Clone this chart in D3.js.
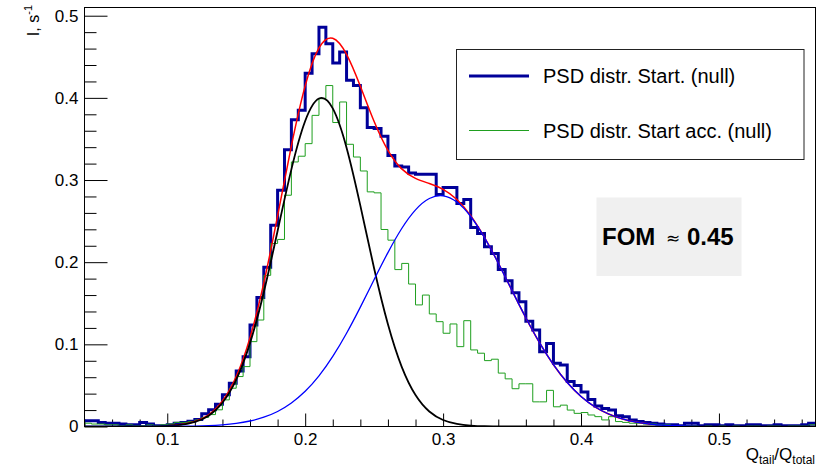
<!DOCTYPE html>
<html>
<head>
<meta charset="utf-8">
<script src="https://cdn.jsdelivr.net/npm/d3@7"></script>
<style>
  body { margin: 0; background: #fff; }
  svg { display: block; font-family: "Liberation Sans", Arial, sans-serif; }
</style>
</head>
<body>
<svg id="chart"></svg>
<script>
// Histogram bins: width 0.005, from 0.04 to 0.57
const binStart = 0.04, binWidth = 0.005, binCount = 106;

// PSD distr. Start. (thick dark blue histogram)
const startHist = [
  0.007, 0.007, 0.005, 0.004, 0.004, 0.003, 0.002, 0.002, 0.005, 0.003,
  0.001, 0.001, 0.002, 0.004, 0.005, 0.0065, 0.0085, 0.0154, 0.0203, 0.0272,
  0.0385, 0.0527, 0.0677, 0.085, 0.1236, 0.157, 0.1937, 0.245, 0.2876, 0.337,
  0.3735, 0.385, 0.430, 0.4537, 0.486, 0.466, 0.4423, 0.4557, 0.4213, 0.415,
  0.388, 0.3638, 0.3626, 0.3532, 0.330, 0.317, 0.316, 0.3086, 0.307, 0.307,
  0.307, 0.2824, 0.2909, 0.2909, 0.2714, 0.2763, 0.2423, 0.235, 0.2187, 0.2107,
  0.191, 0.1774, 0.1628, 0.1519, 0.128, 0.1175, 0.0911, 0.1009, 0.077, 0.075,
  0.0547, 0.050, 0.042, 0.033, 0.025, 0.022, 0.020, 0.013, 0.012, 0.008,
  0.006, 0.005, 0.004, 0.003, 0.002, 0.002, 0.001, 0.004, 0.004, 0.001,
  0.002, 0.002, 0.001, 0.002, 0.001, 0.001, 0.002, 0.002, 0.001, 0.001,
  0.002, 0.001, 0.001, 0.001, 0.002, 0.004
];

// PSD distr. Start acc. (thin green histogram)
const startAccHist = [
  0.004, 0.003, 0.003, 0.002, 0.002, 0.001, 0.002, 0.001, 0.001, 0.002,
  0.001, 0.002, 0.003, 0.005, 0.005, 0.006, 0.008, 0.011, 0.0145, 0.0203,
  0.0324, 0.0466, 0.0608, 0.0729, 0.1033, 0.1296, 0.184, 0.2228, 0.2277, 0.2815,
  0.322, 0.329, 0.3443, 0.3787, 0.399, 0.415, 0.37, 0.395, 0.3435, 0.328,
  0.311, 0.2856, 0.2844, 0.2398, 0.2268, 0.191, 0.1985, 0.1734, 0.148, 0.16,
  0.137, 0.1276, 0.1135, 0.1248, 0.0972, 0.1288, 0.0932, 0.0892, 0.0802, 0.0819,
  0.065, 0.058, 0.046, 0.052, 0.052, 0.03, 0.03, 0.044, 0.024, 0.026,
  0.02, 0.016, 0.017, 0.014, 0.012, 0.008, 0.012, 0.006, 0.005, 0.004,
  0.004, 0.003, 0.003, 0.002, 0.002, 0.001, 0.001, 0.001, 0.001, 0.000,
  0.001, 0.000, 0.001, 0.000, 0.001, 0.000, 0.001, 0.001, 0.000, 0.001,
  0.001, 0.000, 0.001, 0.001, 0.001, 0.002
];

// Fit curves, sampled every 0.01 from 0.04 to 0.57
const curveStep = 0.01;
const gaus1Curve = [
  0, 0, 0, 0.00001, 0.00006, 0.0002, 0.0007, 0.002, 0.0055, 0.0132,
  0.0289, 0.057, 0.1015, 0.1635, 0.238, 0.313, 0.3718, 0.3992, 0.3872, 0.3394,
  0.2688, 0.1923, 0.1244, 0.0726, 0.0383, 0.0183, 0.0079, 0.0031, 0.0011, 0.0003,
  0.0001, 0, 0, 0, 0, 0, 0, 0, 0, 0,
  0, 0, 0, 0, 0, 0, 0, 0, 0, 0,
  0, 0, 0, 0
];
const gaus2Curve = [
  0, 0, 0, 0.00001, 0.00003, 0.00006, 0.00013, 0.00027, 0.00056, 0.0011,
  0.0021, 0.0038, 0.0067, 0.0113, 0.0183, 0.0286, 0.0428, 0.0616, 0.0853, 0.1135,
  0.1453, 0.1789, 0.2117, 0.241, 0.2637, 0.2775, 0.2808, 0.2732, 0.2556, 0.2299,
  0.1989, 0.1654, 0.1323, 0.1017, 0.0752, 0.0535, 0.0365, 0.024, 0.0152, 0.0092,
  0.0054, 0.003, 0.0016, 0.0009, 0.0004, 0.0002, 0.0001, 0, 0, 0,
  0, 0, 0, 0
];
// total fit, drawn over the fit range 0.10 .. 0.45
const totalStart = 0.10;
const totalCurve = [
  0.0008, 0.0023, 0.0061, 0.0143, 0.031, 0.0608, 0.1082, 0.1748, 0.2563, 0.3416,
  0.4146, 0.4608, 0.4725, 0.4529, 0.4141, 0.3712, 0.3361, 0.3136, 0.302, 0.2958,
  0.2887, 0.2763, 0.2567, 0.2302, 0.199, 0.1654, 0.1323, 0.1017, 0.0752, 0.0535,
  0.0365, 0.024, 0.0152, 0.0092, 0.0054, 0.003
];

const xTicks = [0.1, 0.2, 0.3, 0.4, 0.5];
const xTickLabels = ["0.1", "0.2", "0.3", "0.4", "0.5"];
const yTicks = [0, 0.1, 0.2, 0.3, 0.4, 0.5];
const yTickLabels = ["0", "0.1", "0.2", "0.3", "0.4", "0.5"];
const legendLabels = ["PSD distr. Start. (null)", "PSD distr. Start acc. (null)"];
const fomText = ["FOM", "\u2248", "0.45"];

// Dimensions
const width = 831, height = 470;
const frame = {left: 84.5, right: 815.5, top: 7.5, bottom: 426.5};
const font = "'Liberation Sans', Arial, sans-serif";

const svg = d3.select("#chart")
  .attr("width", width)
  .attr("height", height);

// Scales
const xScale = d3.scaleLinear()
  .domain([0.04, 0.57])
  .range([frame.left, frame.right]);

const yScale = d3.scaleLinear()
  .domain([0, 0.51])
  .range([frame.bottom, frame.top]);

svg.append("clipPath").attr("id", "clip")
  .append("rect")
  .attr("x", frame.left).attr("y", frame.top)
  .attr("width", frame.right - frame.left)
  .attr("height", frame.bottom - frame.top);

// Minor ticks (every 0.02)
const xMinor = d3.range(0.04, 0.571, 0.02).filter(v => Math.abs(v * 10 - Math.round(v * 10)) > 1e-6);
const yMinor = d3.range(0.02, 0.51, 0.02).filter(v => Math.abs(v * 10 - Math.round(v * 10)) > 1e-6);

svg.append("g")
  .attr("transform", `translate(0,${frame.bottom})`)
  .call(d3.axisBottom(xScale).tickValues(xMinor).tickFormat("").tickSizeInner(-7).tickSizeOuter(0))
  .call(g => g.select(".domain").remove());

svg.append("g")
  .attr("transform", `translate(${frame.left},0)`)
  .call(d3.axisLeft(yScale).tickValues(yMinor).tickFormat("").tickSizeInner(-12).tickSizeOuter(0))
  .call(g => g.select(".domain").remove());

// Major ticks and labels
svg.append("g")
  .attr("transform", `translate(0,${frame.bottom})`)
  .call(d3.axisBottom(xScale).tickValues(xTicks)
    .tickFormat((d, i) => xTickLabels[i]).tickSizeInner(-13).tickSizeOuter(0).tickPadding(6))
  .call(g => g.select(".domain").remove())
  .call(g => g.selectAll("text").attr("font-size", 17).attr("font-family", font).attr("fill", "#000"));

svg.append("g")
  .attr("transform", `translate(${frame.left},0)`)
  .call(d3.axisLeft(yScale).tickValues(yTicks)
    .tickFormat((d, i) => yTickLabels[i]).tickSizeInner(-23).tickSizeOuter(0).tickPadding(6))
  .call(g => g.select(".domain").remove())
  .call(g => g.selectAll("text").attr("font-size", 17).attr("font-family", font).attr("fill", "#000"));

// Histograms
function histPoints(values) {
  const pts = values.map((v, i) => ({x: binStart + i * binWidth, v: v}));
  pts.push({x: binStart + binCount * binWidth, v: values[values.length - 1]});
  return pts;
}
const histLine = d3.line()
  .x(d => xScale(d.x))
  .y(d => yScale(d.v))
  .curve(d3.curveStepAfter);

const plot = svg.append("g").attr("clip-path", "url(#clip)");

plot.append("path")
  .datum(histPoints(startHist))
  .attr("d", histLine)
  .attr("fill", "none")
  .attr("stroke", "#000099")
  .attr("stroke-width", 3);

plot.append("path")
  .datum(histPoints(startAccHist))
  .attr("d", histLine)
  .attr("fill", "none")
  .attr("stroke", "#1f9f1f")
  .attr("stroke-width", 1);

// Fit curves
const fitLine = d3.line()
  .x(d => xScale(d.x))
  .y(d => yScale(d.v))
  .curve(d3.curveNatural);

function curvePoints(values, start) {
  return values.map((v, i) => ({x: start + i * curveStep, v: v}));
}

plot.append("path")
  .datum(curvePoints(totalCurve, totalStart))
  .attr("d", fitLine)
  .attr("fill", "none")
  .attr("stroke", "#ff0000")
  .attr("stroke-width", 1.5);

plot.append("path")
  .datum(curvePoints(gaus1Curve, 0.04))
  .attr("d", fitLine)
  .attr("fill", "none")
  .attr("stroke", "#000000")
  .attr("stroke-width", 1.8);

plot.append("path")
  .datum(curvePoints(gaus2Curve, 0.04))
  .attr("d", fitLine)
  .attr("fill", "none")
  .attr("stroke", "#0000ff")
  .attr("stroke-width", 1.3);

// Frame
svg.append("rect")
  .attr("x", frame.left).attr("y", frame.top)
  .attr("width", frame.right - frame.left)
  .attr("height", frame.bottom - frame.top)
  .attr("fill", "none")
  .attr("stroke", "#000")
  .attr("stroke-width", 1);

// Axis titles
const yTitle = svg.append("text")
  .attr("transform", "translate(39,5) rotate(-90)")
  .attr("text-anchor", "end")
  .attr("font-family", font)
  .attr("font-size", 16);
yTitle.append("tspan").text("I, s");
yTitle.append("tspan").attr("font-size", 11).attr("dy", -7).text("-1");

const xTitle = svg.append("text")
  .attr("x", 815)
  .attr("y", 460)
  .attr("text-anchor", "end")
  .attr("font-family", font)
  .attr("font-size", 17);
xTitle.append("tspan").text("Q");
xTitle.append("tspan").attr("font-size", 12).attr("dy", 4).text("tail");
xTitle.append("tspan").attr("dy", -4).text("/Q");
xTitle.append("tspan").attr("font-size", 12).attr("dy", 4).text("total");

// Legend
const legend = svg.append("g");
legend.append("rect")
  .attr("x", 456.5).attr("y", 49.5)
  .attr("width", 347.5).attr("height", 110)
  .attr("fill", "#fff")
  .attr("stroke", "#222")
  .attr("stroke-width", 1);

const legendStyle = [
  {color: "#000099", width: 3, y: 76},
  {color: "#1f9f1f", width: 1, y: 130.5}
];
legendStyle.forEach((s, i) => {
  legend.append("line")
    .attr("x1", 469).attr("x2", 529)
    .attr("y1", s.y).attr("y2", s.y)
    .attr("stroke", s.color)
    .attr("stroke-width", s.width);
  legend.append("text")
    .attr("x", 543)
    .attr("y", s.y + 7)
    .attr("font-family", font)
    .attr("font-size", 20)
    .attr("fill", "#000")
    .text(legendLabels[i]);
});

// FOM box
svg.append("rect")
  .attr("x", 596.5).attr("y", 197.5)
  .attr("width", 145).attr("height", 78.5)
  .attr("fill", "#f0f0f0");

svg.append("text")
  .attr("x", 602).attr("y", 245)
  .attr("font-family", font).attr("font-size", 24).attr("font-weight", "bold")
  .text(fomText[0]);
svg.append("text")
  .attr("x", 666).attr("y", 244)
  .attr("font-family", "'DejaVu Sans', sans-serif").attr("font-size", 17)
  .text(fomText[1]);
svg.append("text")
  .attr("x", 687).attr("y", 245)
  .attr("font-family", font).attr("font-size", 24).attr("font-weight", "bold")
  .text(fomText[2]);
</script>
</body>
</html>
